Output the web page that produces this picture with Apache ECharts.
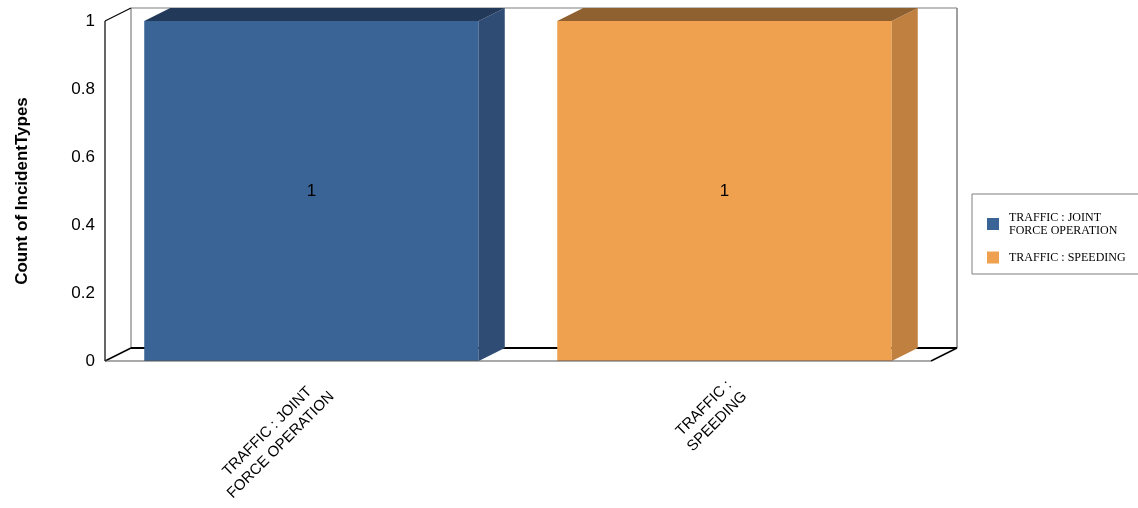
<!DOCTYPE html>
<html><head><meta charset="utf-8">
<script src="https://cdn.jsdelivr.net/npm/echarts/dist/echarts.min.js"></script>
<style>html,body{margin:0;padding:0;background:#fff}#c{width:1138px;height:508px}</style>
</head><body><div id="c"></div>
<script>
// ---- data ----
const categories = ['TRAFFIC : JOINT FORCE OPERATION', 'TRAFFIC : SPEEDING'];
const values = [1, 1];
const tickLabels = ['TRAFFIC : JOINT\nFORCE OPERATION', 'TRAFFIC :\nSPEEDING'];
const legendLabels = ['TRAFFIC : JOINT\nFORCE OPERATION', 'TRAFFIC : SPEEDING'];
const yAxisTitle = 'Count of IncidentTypes';

// ---- styles ----
const FONT = '"Liberation Sans", Arial, sans-serif';
const SERIF = '"Liberation Serif", "Times New Roman", serif';
const faces = [
  { front: '#3A6496', side: '#2E4C74', top: '#22395A' },
  { front: '#F0A150', side: '#C08040', top: '#8F6030' }
];
const DX = 26, DY = 13, BAR_RATIO = 0.81;

const chart = echarts.init(document.getElementById('c'), null, { renderer: 'canvas' });

function frameRender(params, api) {
  const cs = params.coordSys;
  const x0 = cs.x, x1 = cs.x + cs.width, yT = cs.y, yB = cs.y + cs.height;
  const gray = '#7f7f7f', black = '#000';
  const L = (a, b, c, d, col, w) => ({ type: 'line', shape: { x1: a, y1: b, x2: c, y2: d }, style: { stroke: col, lineWidth: w || 1 } });
  return {
    type: 'group',
    children: [
      L(x0 + DX, yT - DY, x0 + DX, yB - DY, gray, 1.2),
      L(x0 + DX, yT - DY, x1 + DX, yT - DY, gray, 1.2),
      L(x1 + DX, yT - DY, x1 + DX, yB - DY, gray, 1.5),
      L(x0 + DX, yB - DY, x1 + DX, yB - DY, black, 2),
      L(x0, yT, x0 + DX, yT - DY, black, 1.2),
      L(x0, yT, x0, yB, black, 1.2),
      L(x0, yB, x0 + DX, yB - DY, black, 1.5),
      L(x1, yB, x1 + DX, yB - DY, black, 1.5)
    ]
  };
}

function frontLineRender(params, api) {
  const cs = params.coordSys;
  return { type: 'line', shape: { x1: cs.x, y1: cs.y + cs.height, x2: cs.x + cs.width, y2: cs.y + cs.height }, style: { stroke: '#555', lineWidth: 1.2 } };
}

function makeBarRender(i) {
  return function (params, api) {
    const c = api.coord([api.value(0), api.value(1)]);
    const b = api.coord([api.value(0), 0]);
    const band = api.size([1, 0])[0];
    const w = band * BAR_RATIO;
    const x0 = c[0] - w / 2, x1 = c[0] + w / 2, yT = c[1], yB = b[1];
    const f = faces[i];
    return {
      type: 'group',
      children: [
        { type: 'rect', shape: { x: x0, y: yT, width: w, height: yB - yT }, style: { fill: f.front } },
        { type: 'polygon', shape: { points: [[x1, yT], [x1 + DX, yT - DY], [x1 + DX, yB - DY], [x1, yB]] }, style: { fill: f.side } },
        { type: 'polygon', shape: { points: [[x0, yT], [x0 + DX, yT - DY], [x1 + DX, yT - DY], [x1, yT]] }, style: { fill: f.top } },
        { type: 'text', x: c[0], y: (yT + yB) / 2, style: { text: String(api.value(1)), align: 'center', verticalAlign: 'middle', fontSize: 17, fontFamily: FONT, fill: '#000' } }
      ]
    };
  };
}

const series = [
  { type: 'custom', name: '_frame', silent: true, z: 1, data: [[0, 0]], encode: { x: 0, y: 1 }, renderItem: frameRender }
];
categories.forEach((name, i) => {
  series.push({
    type: 'custom', name: name, z: 2, silent: true,
    itemStyle: { color: faces[i].front },
    data: [[i, values[i]]], encode: { x: 0, y: 1 },
    renderItem: makeBarRender(i)
  });
});
series.push({ type: 'custom', name: '_front', silent: true, z: 3, data: [[0, 0]], encode: { x: 0, y: 1 }, renderItem: frontLineRender });

chart.setOption({
  animation: false,
  backgroundColor: '#fff',
  grid: { left: 105, right: 207, top: 21, bottom: 147, containLabel: false },
  xAxis: {
    type: 'category', data: categories,
    axisLine: { show: false }, axisTick: { show: false }, splitLine: { show: false },
    axisLabel: {
      interval: 0, rotate: 45, margin: 13, verticalAlign: 'top',
      fontSize: 15, fontFamily: FONT, color: '#000', lineHeight: 19,
      formatter: (v, idx) => tickLabels[idx].split('\n').map(s => '{c|' + s + '}').join('\n'),
      rich: { c: { align: 'center', fontSize: 15, fontFamily: FONT, color: '#000', lineHeight: 19 } }
    }
  },
  yAxis: {
    type: 'value', min: 0, max: 1, interval: 0.2,
    axisLine: { show: false }, axisTick: { show: false }, splitLine: { show: false },
    axisLabel: { fontSize: 17, fontFamily: FONT, color: '#000', margin: 10 },
    name: yAxisTitle, nameLocation: 'middle', nameGap: 74, nameRotate: 90,
    nameTextStyle: { fontSize: 17, fontWeight: 'bold', fontFamily: FONT, color: '#000' }
  },
  legend: {
    data: categories, orient: 'vertical', left: 972, top: 194,
    icon: 'rect', itemWidth: 12, itemHeight: 12, itemGap: 14,
    padding: [17, 17, 10, 15],
    borderColor: '#7f7f7f', borderWidth: 1,
    selectedMode: false,
    formatter: name => legendLabels[categories.indexOf(name)],
    textStyle: { fontSize: 12, lineHeight: 13, fontFamily: SERIF, color: '#000', padding: [0, 0, 0, 5] }
  },
  series: series
});
</script>
</body></html>
